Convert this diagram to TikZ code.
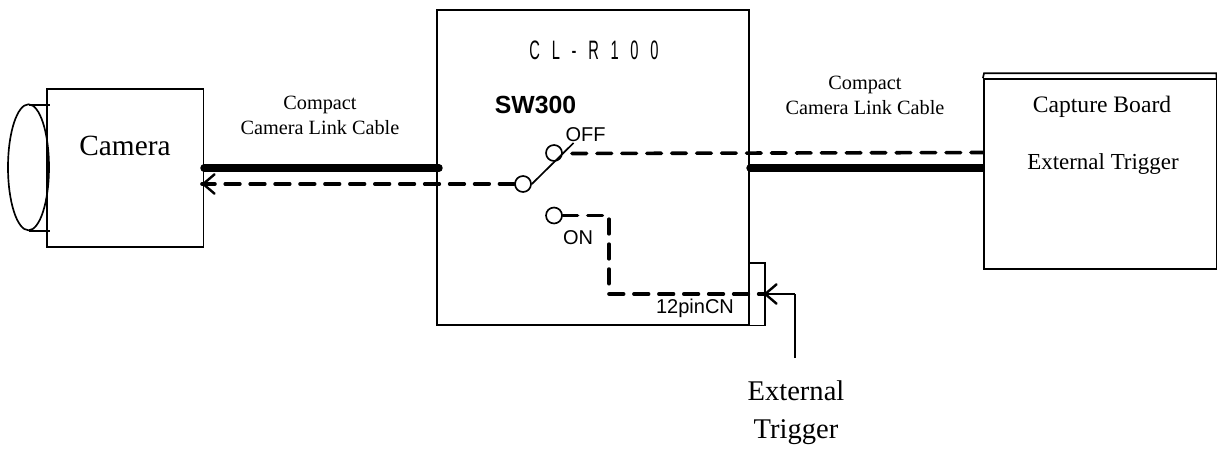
\documentclass[tikz,border=0pt]{standalone}
\usepackage{fontspec}
\setmainfont{Liberation Serif}
\newfontfamily\sansf{Liberation Sans}
\usetikzlibrary{arrows.meta,shapes.geometric}
\tikzset{
  x=0.75pt,y=-0.75pt,
  box/.style={draw,line width=1.25pt,inner sep=0pt,fill=none},
  thin line/.style={line width=1.25pt},
  cable/.style={line width=5.6pt,line cap=round},
  sig/.style={line width=2.7pt,dash pattern=on 11pt off 7.7pt,line cap=round},
  port/.style={circle,draw,line width=1.25pt,fill=white,minimum size=12pt,inner sep=0pt},
  barb/.style={-{Straight Barb[length=8.5pt,width=14.5pt,line width=1.8pt,round]}},
  serifl/.style={font=\fontsize{15.2pt}{18.6pt}\selectfont,align=center,inner sep=0pt},
  sanst/.style={font=\sansf\fontsize{15pt}{18pt}\selectfont,inner sep=0pt}
}
\begin{document}
\begin{tikzpicture}
\useasboundingbox (0,0) rectangle (1217,449);
% camera
\node[ellipse,box,minimum width=30.75pt,minimum height=94.5pt] (lens) at (28.5,167.3) {};
\node[box,minimum width=117.3pt,minimum height=118.5pt] (cam) at (125.3,168) {};
\coordinate (lensT) at (29,104.7); \coordinate (lensTe) at (49.5,104.7);
\coordinate (lensB) at (29,230.7); \coordinate (lensBe) at (49.5,230.7);
\draw[thin line] (lensT) -- (lensTe);
\draw[thin line] (lensB) -- (lensBe);
\node[inner sep=0pt,font=\fontsize{22pt}{26pt}\selectfont] (camlabel) at (125,146) {Camera};
% CL-R100
\node[box,minimum width=234pt,minimum height=236.2pt] (clr) at (593,167.5) {};
\node[box,minimum width=12pt,minimum height=47pt] (cn) at (757,294) {};
\node[sanst,font=\sansf\fontsize{20pt}{24pt}\selectfont,xscale=.55,transform shape] (clrlabel) at (594,50)
  {C\hspace{16pt}L\hspace{16pt}-\hspace{16pt}R\hspace{16pt}1\hspace{16pt}0\hspace{16pt}0};
\node[sanst,font=\sansf\bfseries\fontsize{18.6pt}{22pt}\selectfont] (swlabel) at (535.5,104.5) {SW300};
\node[sanst] (offlabel) at (585.5,135) {OFF};
\node[sanst] (onlabel) at (578,238) {ON};
\node[sanst] (pinlabel) at (695,308.5) {12pinCN};
% capture board
\node[box,minimum width=175.1pt,minimum height=142.5pt] (board) at (1100.5,174) {};
\coordinate (boardTL) at (984,73.3); \coordinate (boardTR) at (1216.5,73.3); \coordinate (boardTRb) at (1216.5,79);
\draw[line width=1.25pt] (board.north west) -- (boardTL) -- (boardTR) -- (boardTRb);
\node[serifl,font=\fontsize{17.7pt}{21pt}\selectfont] (capl) at (1102,106.5) {Capture Board};
\node[serifl,font=\fontsize{17.2pt}{21pt}\selectfont] (extl) at (1103,164.5) {External Trigger};
% cable labels
\node[serifl] (cableL) at (320,115.5) {Compact\\Camera Link Cable};
\node[serifl] (cableR) at (865,95.5) {Compact\\Camera Link Cable};
% cables
\coordinate (camport) at (204,168); \coordinate (clrL) at (439,168);
\coordinate (clrR) at (750,168); \coordinate (boardport) at (983,168);
\draw[cable] (camport) -- (clrL);
\draw[cable,line cap=butt] (boardport) -- (clrR);
\fill (clrR) circle (2.8pt);
% switch
\coordinate (camsig) at (202,184); \coordinate (camtail) at (215,184);
\coordinate (offout) at (572,153.5); \coordinate (boardsig) at (983,152.5);
\coordinate (corner) at (609,215.5); \coordinate (corner2) at (609,294);
\coordinate (cnin) at (764,294); \coordinate (trigB) at (795,358); \coordinate (trigC) at (795,294);
\coordinate (blade) at (573.5,143);
\node[port] (common) at (523,184) {};
\node[port] (off) at (554,153) {};
\node[port] (on) at (554,215.5) {};
\draw[sig] (common.west) -- (camsig);
\draw[barb,line width=1.8pt] (camtail) -- (camsig);
\draw[sig] (offout) -- (boardsig);
\draw[sig] (on.east) -- (corner) -- (corner2) -- (cnin);
\draw[line width=1.5pt] (trigB) -- (trigC);
\draw[barb,line width=1.8pt] (trigC) -- (cnin);
\draw[thin line] (common.east) -- (blade);
\node[serifl,font=\fontsize{21.4pt}{28.5pt}\selectfont] (trigl) at (796,413) {External\\Trigger};
\end{tikzpicture}
\end{document}
